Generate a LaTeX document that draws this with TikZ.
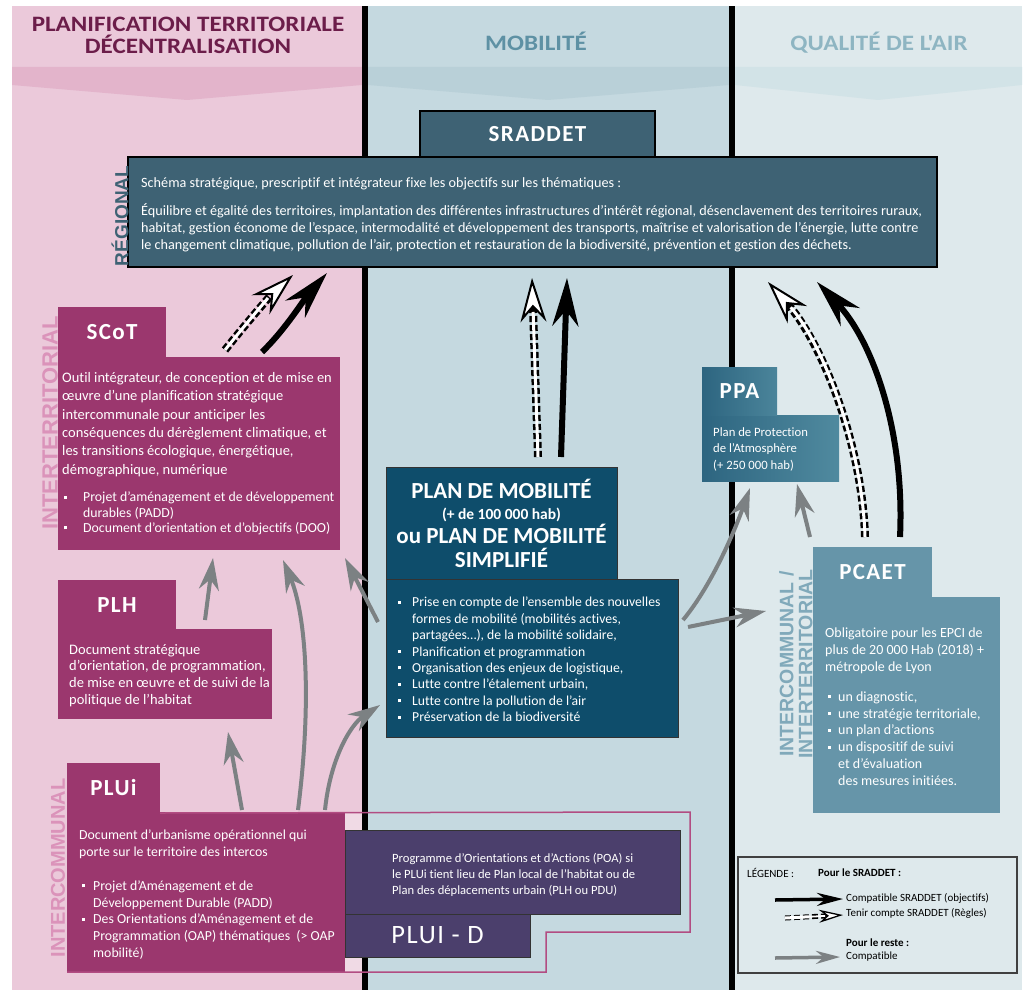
\documentclass[tikz,border=0pt]{standalone}
\usepackage{fontspec}
\setmainfont{Carlito}[Ligatures=NoCommon]
\newfontfamily\sidefont{Liberation Sans}
\newfontfamily\titlefont[LetterSpace=6]{Carlito}
\newfontfamily\headfont[FakeStretch=1.14]{Carlito}
\usetikzlibrary{arrows.meta}

\definecolor{pinkbg}{HTML}{EBC9DA}
\definecolor{pinkband}{HTML}{E3B4CB}
\definecolor{pinklight}{HTML}{F0DAE5}
\definecolor{mobbg}{HTML}{C5D9E0}
\definecolor{mobband}{HTML}{B9D0D8}
\definecolor{airbg}{HTML}{DEE9EC}
\definecolor{airband}{HTML}{D2E3E7}
\definecolor{plum}{HTML}{9B376E}
\definecolor{sraddetblue}{HTML}{3E6274}
\definecolor{mobdark}{HTML}{0E4D6B}
\definecolor{poaviolet}{HTML}{4B3F6C}
\definecolor{pcaetblue}{HTML}{6695A9}
\definecolor{ppaleft}{HTML}{2D6580}
\definecolor{pparight}{HTML}{508A9F}
\definecolor{outlinepink}{HTML}{B24C82}
\definecolor{arrowgrey}{HTML}{7C8183}
\definecolor{headpink}{HTML}{6C1D4A}
\definecolor{headmob}{HTML}{5E91A4}
\definecolor{headair}{HTML}{8EB5C2}
\definecolor{sidepink}{HTML}{DB93BA}
\definecolor{sideblue}{HTML}{80A9BA}

\newcommand\bul[1]{\makebox[#1][l]{\raisebox{.22em}{\rule{3pt}{3pt}}}}

\begin{document}
\begin{tikzpicture}[x=1pt,y=-1pt,
  panel/.style={rectangle,inner sep=0pt,outer sep=0pt,anchor=north west},
  txt/.style={inner sep=0pt,anchor=north west,align=left,text=white},
  tabtitle/.style={text=white,font=\titlefont\bfseries\fontsize{23}{23}\selectfont},
  side/.style={rotate=90,inner sep=0pt,font=\sidefont\bfseries\fontsize{22}{22}\selectfont},
  header/.style={font=\headfont\bfseries\fontsize{22}{22}\selectfont,align=center},
  compat/.style={draw=arrowgrey,line width=4pt,-{Stealth[length=32pt,width=20pt]}},
  objectif/.style={draw=black,line width=6pt,-{Stealth[length=48pt,width=26pt]}},
  regle/.style={draw=black,line width=8pt,dash pattern=on 6pt off 3pt,
    -{Stealth[length=44pt,width=26pt,fill=white,line width=2pt]},
    postaction={draw=white,line width=3pt,solid,-,shorten >=34pt}}]
  \useasboundingbox (0,0) rectangle (1024,992);

  % columns
  \fill[pinkbg] (12,6) rectangle (362,990);
  \fill[mobbg] (368,6) rectangle (729,990);
  \fill[airbg] (735,6) rectangle (1022,990);
  \fill[pinkband] (12,67) -- (362,67) -- (362,85) -- (187,100) -- (12,85) -- cycle;
  \fill[mobband] (368,67) -- (729,67) -- (729,85) -- (548,100) -- (368,85) -- cycle;
  \fill[airband] (735,67) -- (1022,67) -- (1022,85) -- (878,100) -- (735,85) -- cycle;
  \fill[pinklight] (345,812) rectangle (362,972);
  \fill[black] (362,6) rectangle (368,990);
  \fill[black] (729,6) rectangle (735,990);

  \node[header,text=headpink] (hplan) at (188,35) {PLANIFICATION TERRITORIALE\\DÉCENTRALISATION};
  \node[header,text=headmob] (hmob) at (536,41) {MOBILITÉ};
  \node[header,text=headair] (hair) at (879,43) {QUALITÉ DE L'AIR};

  % regional
  \node[panel,fill=sraddetblue,draw=black,line width=2pt,minimum width=235pt,minimum height=47pt,tabtitle] (sradtitle) at (420,111) {SRADDET};
  \node[panel,fill=sraddetblue,draw=black,line width=2pt,minimum width=809pt,minimum height=110pt] (sraddet) at (128,157) {};
  \node[txt,font=\fontsize{14.2}{17}\selectfont] (sradtext) at (141,177) {Schéma stratégique, prescriptif et intégrateur fixe les objectifs sur les thématiques :\\[11pt]
    Équilibre et égalité des territoires, implantation des différentes infrastructures d’intérêt régional, désenclavement des territoires ruraux,\\
    habitat, gestion économe de l’espace, intermodalité et développement des transports, maîtrise et valorisation de l’énergie, lutte contre\\
    le changement climatique, pollution de l’air, protection et restauration de la biodiversité, prévention et gestion des déchets.};
  \node[side,text=sraddetblue,font=\sidefont\bfseries\fontsize{19}{19}\selectfont] (lregional) at (120,216) {RÉGIONAL};

  % SCoT
  \node[side,text=sidepink] (linterterr) at (50,423) {INTERTERRITORIAL};
  \node[panel,fill=plum,minimum width=282pt,minimum height=193pt] (scot) at (58,357) {};
  \node[panel,fill=plum,minimum width=108pt,minimum height=50pt,tabtitle] (scottab) at (58,307) {SCoT};
  \node[txt,font=\fontsize{14.5}{18.4}\selectfont] (scottext) at (62,372) {Outil intégrateur, de conception et de mise en\\
    œuvre d’une planification stratégique\\
    intercommunale pour anticiper les\\
    conséquences du dérèglement climatique, et\\
    les transitions écologique, énergétique,\\
    démographique, numérique};
  \node[txt,font=\fontsize{13.8}{15.3}\selectfont] (scotlist) at (62,492) {\hspace*{2pt}\bul{19pt}Projet d’aménagement et de développement\\
    \hspace*{21pt}durables (PADD)\\
    \hspace*{2pt}\bul{19pt}Document d’orientation et d’objectifs (DOO)};

  % PLH
  \node[panel,fill=plum,minimum width=214pt,minimum height=90pt] (plh) at (58,629) {};
  \node[panel,fill=plum,minimum width=118pt,minimum height=50pt,tabtitle] (plhtab) at (58,580) {PLH};
  \node[txt,font=\fontsize{14.5}{16.7}\selectfont] (plhtext) at (69,644) {Document stratégique\\
    d’orientation, de programmation,\\
    de mise en œuvre et de suivi de la\\
    politique de l’habitat};

  % PLUi and PLUI-D
  \node[side,text=sidepink,font=\sidefont\bfseries\fontsize{20}{20}\selectfont] (lintercom) at (58,868) {INTERCOMMUNAL};
  \node[panel,fill=plum,minimum width=278pt,minimum height=160pt] (plui) at (67,812) {};
  \node[panel,fill=plum,minimum width=93pt,minimum height=50pt,tabtitle] (pluitab) at (67,763) {PLUi};
  \node[txt,font=\fontsize{13.8}{16.8}\selectfont] (pluitext) at (79,830) {Document d’urbanisme opérationnel qui\\
    porte sur le territoire des intercos\\[16.8pt]
    \hspace*{3pt}\bul{11pt}Projet d’Aménagement et de\\
    \hspace*{14pt}Développement Durable (PADD)\\
    \hspace*{3pt}\bul{11pt}Des Orientations d’Aménagement et de\\
    \hspace*{14pt}Programmation (OAP) thématiques~~(> OAP\\
    \hspace*{14pt}mobilité)};
  \node[panel,fill=poaviolet,draw=black!80,line width=1pt,minimum width=335pt,minimum height=84pt] (poa) at (345,830) {};
  \node[panel,fill=poaviolet,draw=black!80,line width=1pt,minimum width=185pt,minimum height=43pt,text=white,font=\titlefont\fontsize{26.5}{26.5}\selectfont] (pluid) at (345,914) {PLUI - D};
  \node[txt,font=\fontsize{12.6}{16}\selectfont] (poatext) at (392,853) {Programme d'Orientations et d'Actions (POA) si\\
    le PLUi tient lieu de Plan local de l'habitat ou de\\
    Plan des déplacements urbain (PLH ou PDU)};
  \draw[outlinepink,line width=1.5pt] (pluitab.south east) -- (690,812) -- (690,932) -- (546,932) -- (546,972) -- (plui.south west);

  % plan de mobilite
  \node[panel,fill=mobdark,draw=black!80,line width=1pt,minimum width=292pt,minimum height=158pt] (pm) at (386,579) {};
  \node[panel,fill=mobdark,draw=black!80,line width=1pt,minimum width=231pt,minimum height=112pt,text=white,align=center,
    font=\bfseries\fontsize{23}{24}\selectfont] (pmtitle) at (386,467) {PLAN DE MOBILITÉ\\[-3pt]
    {\fontsize{15.5}{16}\selectfont (+ de 100 000 hab)}\\
    ou PLAN DE MOBILITÉ\\SIMPLIFIÉ};
  \node[txt,font=\fontsize{13.7}{16.4}\selectfont] (pmtext) at (398,597) {\bul{14pt}Prise en compte de l’ensemble des nouvelles\\
    \hspace*{14pt}formes de mobilité (mobilités actives,\\
    \hspace*{14pt}partagées…), de la mobilité solidaire,\\
    \bul{14pt}Planification et programmation\\
    \bul{14pt}Organisation des enjeux de logistique,\\
    \bul{14pt}Lutte contre l’étalement urbain,\\
    \bul{14pt}Lutte contre la pollution de l’air\\
    \bul{14pt}Préservation de la biodiversité};

  % PPA
  \node[panel,left color=ppaleft,right color=pparight,minimum width=137pt,minimum height=66pt] (ppa) at (702,415) {};
  \node[panel,left color=ppaleft,right color=pparight!85!ppaleft,minimum width=75pt,minimum height=48pt,tabtitle] (ppatab) at (702,367) {PPA};
  \node[txt,font=\fontsize{12.7}{16.5}\selectfont] (ppatext) at (713,427) {Plan de Protection\\de l'Atmosphère\\(+ 250 000 hab)};

  % PCAET
  \node[side,text=sideblue,align=center,font=\sidefont\bfseries\fontsize{19.5}{19}\selectfont] (lpcaet) at (796,664) {INTERCOMMUNAL /\\INTERTERRITORIAL};
  \node[panel,fill=pcaetblue,minimum width=187pt,minimum height=216pt] (pcaet) at (813,597) {};
  \node[panel,fill=pcaetblue,minimum width=119pt,minimum height=50pt,tabtitle] (pcaettab) at (813,547) {PCAET};
  \node[txt,font=\fontsize{14}{16.8}\selectfont] (pcaettext) at (825,628) {Obligatoire pour les EPCI de\\
    plus de 20 000 Hab (2018) +\\
    métropole de Lyon\\[13pt]
    \hspace*{3pt}\bul{10pt}un diagnostic,\\
    \hspace*{3pt}\bul{10pt}une stratégie territoriale,\\
    \hspace*{3pt}\bul{10pt}un plan d'actions\\
    \hspace*{3pt}\bul{10pt}un dispositif de suivi\\
    \hspace*{13pt}et d'évaluation\\
    \hspace*{13pt}des mesures initiées.};

  % arrows towards SRADDET
  \coordinate (scotR) at (225,350);   \coordinate (sradR1) at (293,275);
  \coordinate (scotO) at (262,352);   \coordinate (sradO1) at (327,273);
  \coordinate (pmR) at (538,457);     \coordinate (sradR2) at (532,278);
  \coordinate (pmO) at (561,457);     \coordinate (sradO2) at (567,278);
  \coordinate (pcaetR) at (865,537);  \coordinate (sradR3) at (768,282);
  \coordinate (pcaetO) at (900,537);  \coordinate (sradO3) at (817,282);
  \draw[regle] (scotR) .. controls (245,325) and (268,298) .. (sradR1);
  \draw[objectif] (scotO) .. controls (285,330) and (305,298) .. (sradO1);
  \draw[regle] (pmR) -- (sradR2);
  \draw[objectif] (pmO) -- (sradO2);
  \draw[regle] (pcaetR) .. controls (862,440) and (820,340) .. (sradR3);
  \draw[objectif] (pcaetO) .. controls (905,430) and (872,340) .. (sradO3);

  % compatible arrows
  \coordinate (plhN) at (205,620);    \coordinate (scotS1) at (213,558);
  \coordinate (pluiN1) at (242,810);  \coordinate (plhS) at (228,732);
  \coordinate (pluiN2) at (298,810);  \coordinate (scotS2) at (283,560);
  \coordinate (pluiN3) at (325,810);  \coordinate (pmW) at (380,705);
  \coordinate (pmNW) at (378,622);    \coordinate (scotSE) at (345,558);
  \coordinate (pmNE) at (683,620);    \coordinate (ppaS1) at (750,488);
  \coordinate (pmE) at (688,627);     \coordinate (pcaetW) at (766,611);
  \coordinate (pcaetN) at (810,537);  \coordinate (ppaS2) at (797,484);
  \draw[compat] (plhN) -- (scotS1);
  \draw[compat] (pluiN1) -- (plhS);
  \draw[compat] (pluiN2) .. controls (312,700) and (306,615) .. (scotS2);
  \draw[compat] (pluiN3) .. controls (330,760) and (350,725) .. (pmW);
  \draw[compat] (pmNW) -- (scotSE);
  \draw[compat] (pmNE) .. controls (712,585) and (735,530) .. (ppaS1);
  \draw[compat] (pmE) -- (pcaetW);
  \draw[compat] (pcaetN) -- (ppaS2);

  % legend
  \node[panel,draw=black!75,line width=1.5pt,minimum width=279pt,minimum height=116pt] (legend) at (738,857) {};
  \node[anchor=west,inner sep=0pt,font=\fontsize{11}{13}\selectfont] (legtitle) at (747,873) {LÉGENDE :};
  \node[anchor=west,inner sep=0pt,font=\bfseries\fontsize{11}{13}\selectfont] (legsrad) at (818,873) {Pour le SRADDET~:};
  \node[anchor=west,inner sep=0pt,font=\fontsize{11}{13}\selectfont] (legobj) at (846,898) {Compatible SRADDET (objectifs)};
  \node[anchor=west,inner sep=0pt,font=\fontsize{11}{13}\selectfont] (legregle) at (846,913) {Tenir compte SRADDET (Règles)};
  \node[anchor=west,inner sep=0pt,font=\bfseries\fontsize{11}{13}\selectfont] (legreste) at (846,943) {Pour le reste :};
  \node[anchor=west,inner sep=0pt,font=\fontsize{11}{13}\selectfont] (legcomp) at (846,957) {Compatible};
  \coordinate (legA) at (775,900);  \coordinate (legB) at (843,899);
  \coordinate (legC) at (785,918);  \coordinate (legD) at (843,915);
  \coordinate (legE) at (775,958);  \coordinate (legF) at (840,957);
  \draw[objectif,line width=3.5pt,-{Stealth[length=26pt,width=13pt]}] (legA) -- (legB);
  \draw[regle,line width=5pt,-{Stealth[length=24pt,width=13pt,fill=white,line width=1.3pt]},postaction={draw=white,line width=1.8pt,solid,-,shorten >=18pt}] (legC) -- (legD);
  \draw[compat,line width=3.5pt,-{Stealth[length=24pt,width=13pt]}] (legE) -- (legF);
\end{tikzpicture}
\end{document}
